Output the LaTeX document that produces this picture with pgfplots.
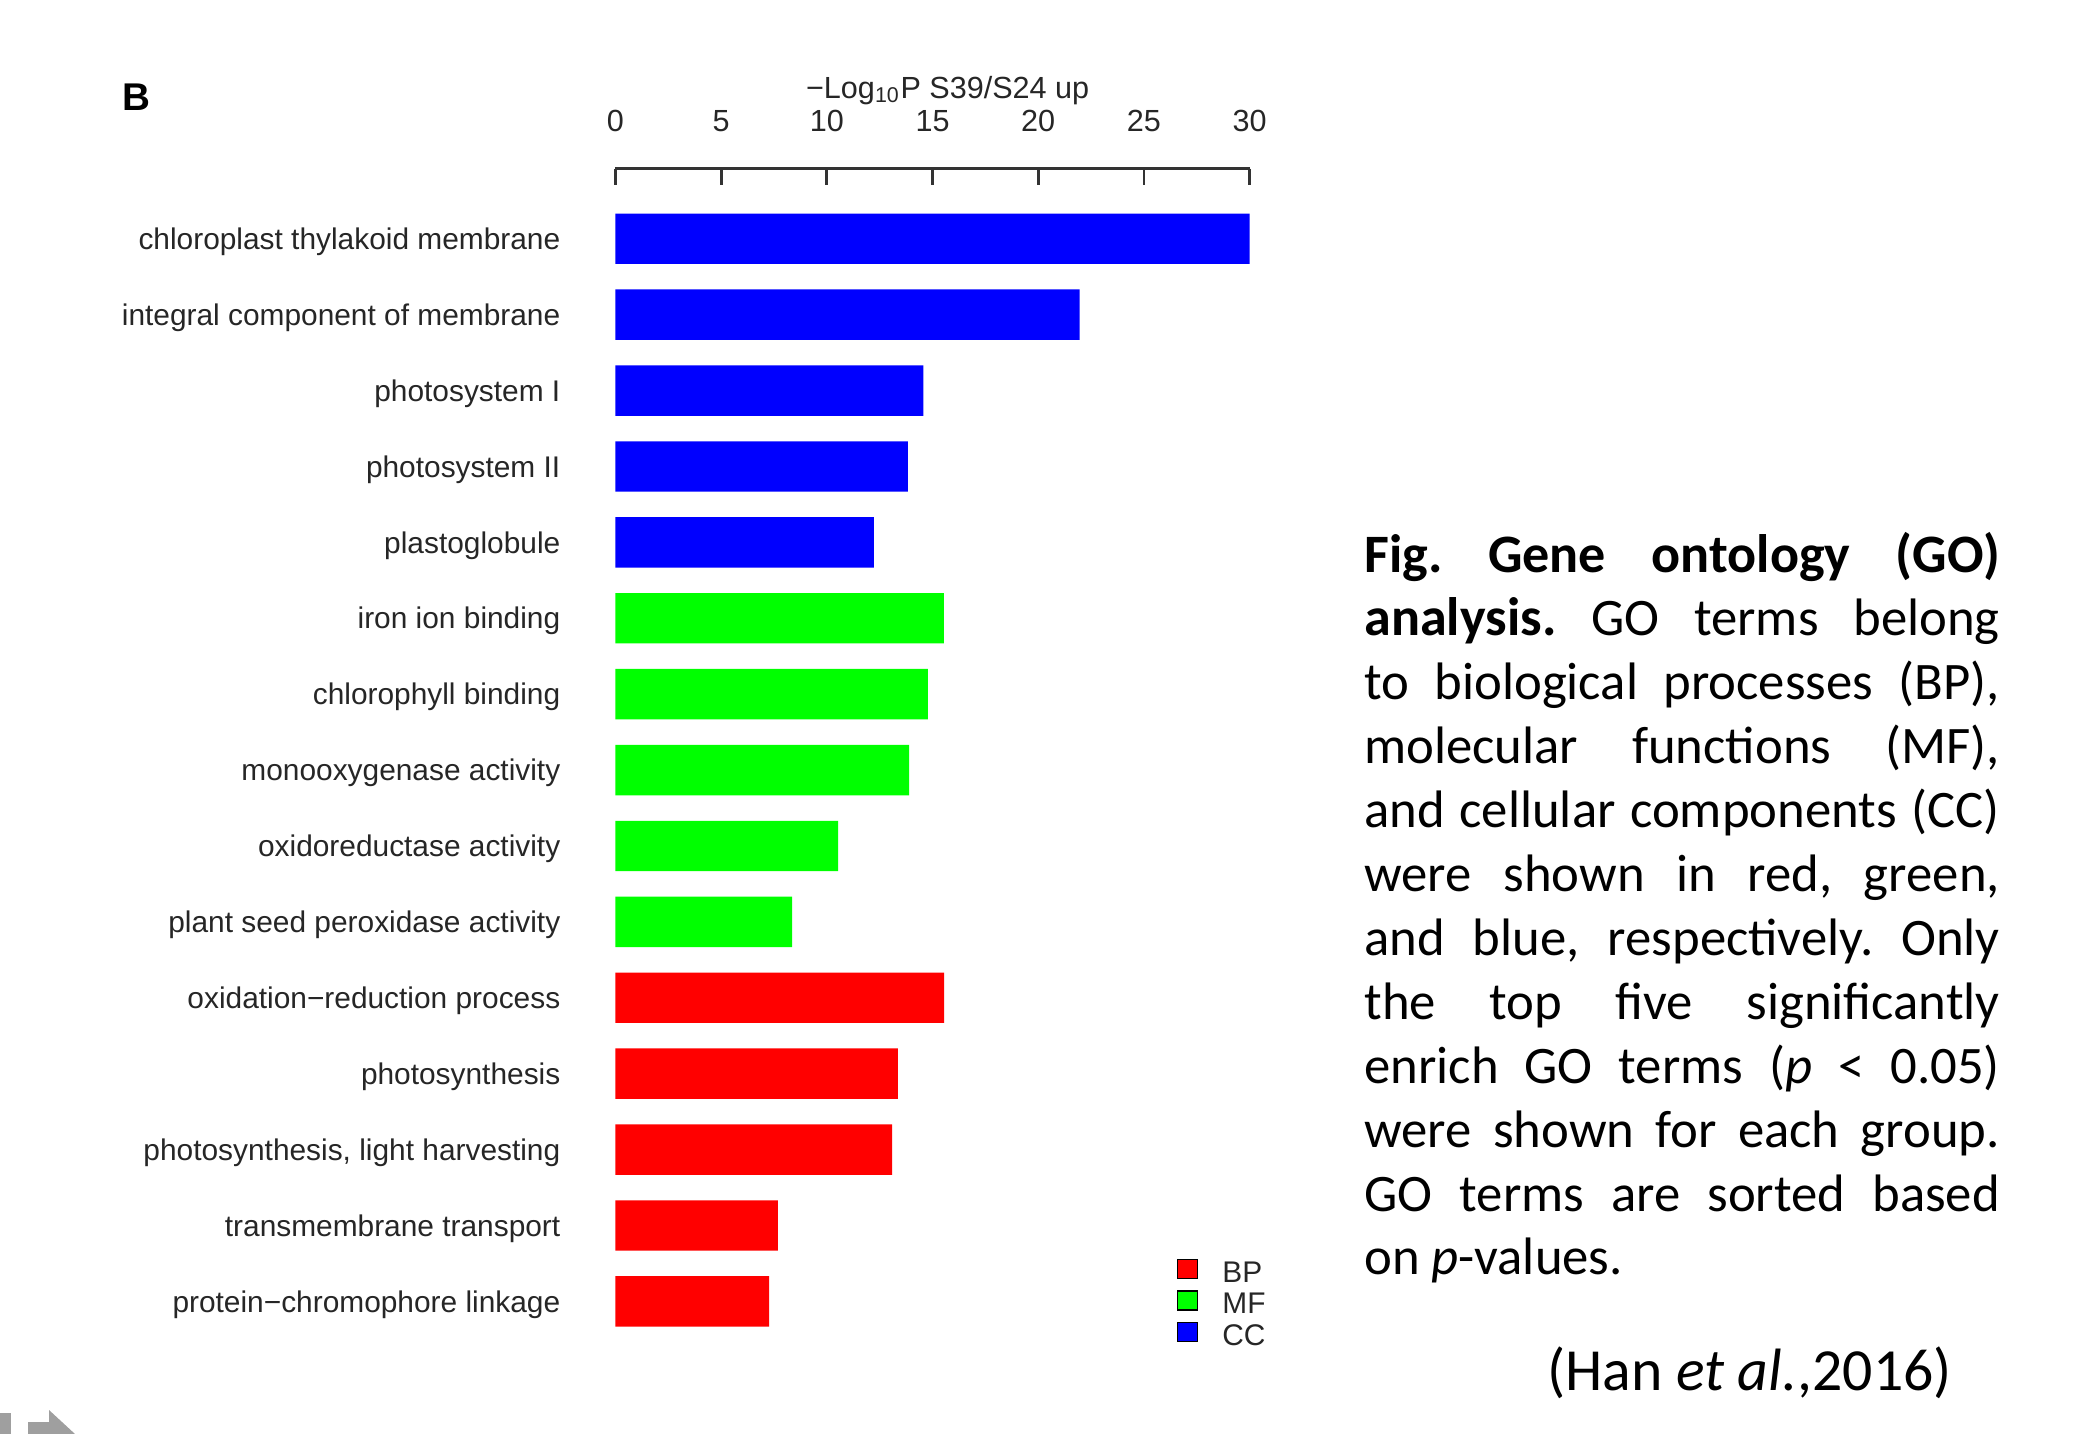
\documentclass[border=0pt]{standalone}
\usepackage{fontspec}
\usepackage{pgfplots}
\pgfplotsset{compat=1.18}
\setmainfont{Liberation Sans}
\newfontfamily\capfont{Carlito}
\newcommand\lab{\fontsize{8.5}{10}\selectfont}
\newcommand\tck{\fontsize{8.7}{10}\selectfont}
\newcommand\capl[1]{\makebox[6.354cm][s]{#1}}
\frenchspacing
\begin{document}
\begin{tikzpicture}[x=1cm,y=1cm]
\useasboundingbox (0,0) rectangle (20.8,-14.34);
\begin{axis}[
  at={(6.155cm,-1.685cm)}, anchor=north west,
  scale only axis, width=6.341cm, height=11.708cm,
  xmin=0, xmax=30, ymin=-0.5, ymax=14.926,
  axis x line*=top, axis y line*=left,
  y axis line style={draw=none},
  x axis line style={-, line width=0.8pt, black!80},
  xtick={0,5,10,15,20,25,30},
  tick align=inside,
  major tick length=0.16cm,
  xtick style={line width=0.8pt, black!80},
  ytick style={draw=none},
  /pgf/number format/assume math mode=true,
  xticklabel style={font=\tck, anchor=base, yshift=0.368cm, text=black!85},
  ytick={0,1,2,3,4,5,6,7,8,9,10,11,12,13,14},
  yticklabels={protein−chromophore linkage, transmembrane transport, {photosynthesis, light harvesting}, photosynthesis, oxidation−reduction process, plant seed peroxidase activity, oxidoreductase activity, monooxygenase activity, chlorophyll binding, iron ion binding, plastoglobule, photosystem II, photosystem I, integral component of membrane, chloroplast thylakoid membrane},
  yticklabel style={font=\lab, anchor=base east, inner sep=0pt, xshift=-0.545cm, yshift=-3.05pt, text=black!85},
  clip=false,
  legend cell align=left,
  legend image code/.code={\fill[#1] (0cm,-0.075cm) rectangle (0.2cm,0.115cm);},
  legend style={at={(axis description cs:0.8855,0.0724)}, anchor=north west, draw=none, fill=none, inner sep=0pt, outer sep=0pt, column sep=0.24cm, row sep=-0.014cm, font=\lab, text=black!85, nodes={inner sep=0pt, text height=0.275cm, text depth=0.055cm}},
]
\addplot[xbar, bar shift=0pt, bar width=0.504cm, fill=blue, draw=none, forget plot] coordinates {(30.0,14) (21.96,13) (14.57,12) (13.83,11) (12.22,10)};
\addplot[xbar, bar shift=0pt, bar width=0.504cm, fill=green, draw=none, forget plot] coordinates {(15.53,9) (14.78,8) (13.89,7) (10.53,6) (8.36,5)};
\addplot[xbar, bar shift=0pt, bar width=0.504cm, fill=red, draw=none, forget plot] coordinates {(15.55,4) (13.36,3) (13.09,2) (7.68,1) (7.27,0)};
\addlegendimage{fill=red}
\addlegendentry{BP}
\addlegendimage{fill=green}
\addlegendentry{MF}
\addlegendimage{fill=blue}
\addlegendentry{CC}
\end{axis}
% axis title and panel letter
\node[anchor=base, inner sep=0pt, text=black!85, font=\tck] at (9.477,-0.985) {−Log\textsubscript{10}P S39/S24 up};
\node[anchor=base west, inner sep=0pt, font=\fontsize{11}{13}\selectfont\bfseries] at (1.22,-1.10) {B};
% caption
\begin{scope}[every node/.style={anchor=base west, inner sep=0pt, font=\capfont\fontsize{15}{18}\selectfont}]
\node at (13.637,-5.720) {\capl{\fontsize{15.4}{18}\selectfont\bfseries Fig. Gene ontology (GO)}};
\node at (13.637,-6.359) {\capl{\textbf{\fontsize{15.4}{18}\selectfont analysis.} GO terms belong}};
\node at (13.637,-6.998) {\capl{to biological processes (BP),}};
\node at (13.637,-7.637) {\capl{molecular functions (MF),}};
\node at (13.637,-8.276) {\capl{and cellular components (CC)}};
\node at (13.637,-8.915) {\capl{were shown in red, green,}};
\node at (13.637,-9.554) {\capl{and blue, respectively. Only}};
\node at (13.637,-10.193) {\capl{the top five significantly}};
\node at (13.637,-10.832) {\capl{enrich GO terms (\textit{p} < 0.05)}};
\node at (13.637,-11.471) {\capl{were shown for each group.}};
\node at (13.637,-12.110) {\capl{GO terms are sorted based}};
\node at (13.637,-12.749) {on \textit{p}-values.};
\end{scope}
\node[anchor=base west, inner sep=0pt, font=\capfont\fontsize{17}{20}\selectfont] at (15.467,-13.90) {(Han \textit{et al.},2016)};
% corner artifact
\fill[gray!75] (0,-14.13) rectangle (0.11,-14.34);
\fill[gray!75] (0.28,-14.22) -- (0.49,-14.22) -- (0.49,-14.10) -- (0.75,-14.34) -- (0.28,-14.34) -- cycle;
\end{tikzpicture}
\end{document}
